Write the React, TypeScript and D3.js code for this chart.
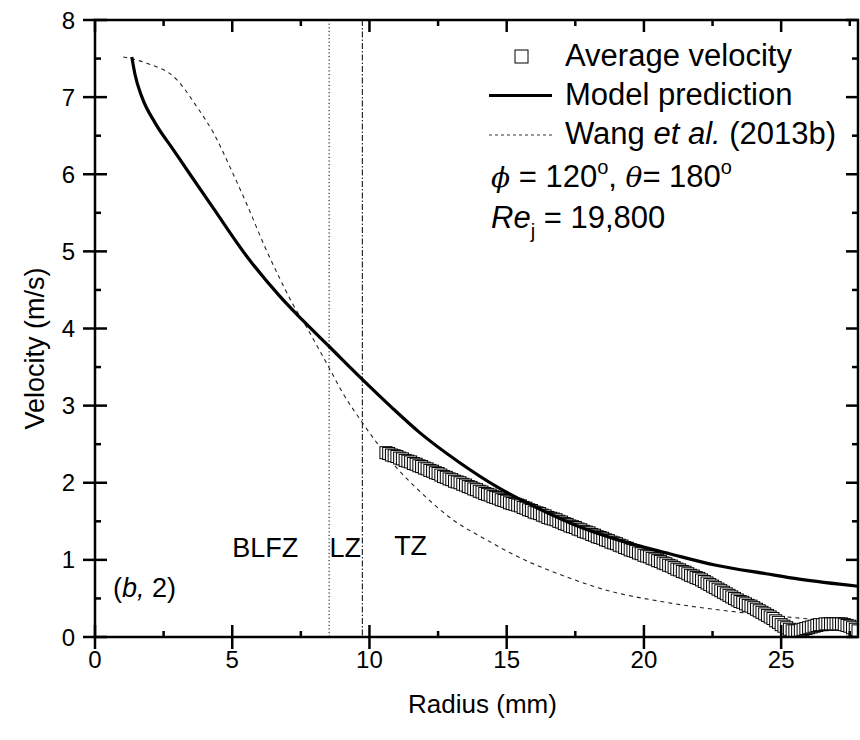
import React from "react";
import * as d3 from "d3";

const W = 860;
const H = 740;

// Model prediction (solid line)
const modelR = [1.34, 1.40, 1.46, 1.70, 2.2, 2.85, 3.46, 4.31, 5.52, 6.73, 7.5, 8.55, 9.74, 10.8, 11.83, 13.29, 14.68, 16.14, 17.65, 19.23, 20.93, 22.63, 24.45, 25.66, 27.85];
const modelV = [7.52, 7.40, 7.29, 7.01, 6.66, 6.32, 6.00, 5.56, 4.94, 4.42, 4.13, 3.76, 3.34, 2.98, 2.65, 2.26, 1.94, 1.67, 1.43, 1.24, 1.08, 0.93, 0.82, 0.75, 0.656];

// Wang et al. (2013b) (dashed line)
const wangR = [1.03, 1.88, 2.97, 3.70, 4.31, 5.0, 5.52, 6.2, 6.73, 7.2, 7.77, 8.19, 8.53, 9.0, 9.74, 10.37, 11.0, 11.77, 13.04, 14.26, 15.47, 17.17, 18.5, 20.8, 23.24, 25.5, 27.85];
const wangV = [7.52, 7.44, 7.23, 6.88, 6.54, 6.03, 5.62, 5.05, 4.65, 4.32, 3.98, 3.71, 3.49, 3.18, 2.78, 2.47, 2.19, 1.91, 1.52, 1.26, 1.03, 0.78, 0.62, 0.45, 0.33, 0.25, 0.19];

// Average velocity (open squares)
const avgR = [
  10.6, 10.7, 10.8, 10.9, 11.0, 11.1, 11.2, 11.3, 11.4, 11.5, 11.6, 11.7, 11.8, 11.9,
  12.0, 12.1, 12.2, 12.3, 12.4, 12.5, 12.6, 12.7, 12.8, 12.9,
  13.0, 13.1, 13.2, 13.3, 13.4, 13.5, 13.6, 13.7, 13.8, 13.9,
  14.0, 14.1, 14.2, 14.3, 14.4, 14.5, 14.6, 14.7, 14.8, 14.9,
  15.0, 15.1, 15.2, 15.3, 15.4, 15.5, 15.6, 15.7, 15.8, 15.9,
  16.0, 16.1, 16.2, 16.3, 16.4, 16.5, 16.6, 16.7, 16.8, 16.9,
  17.0, 17.1, 17.2, 17.3, 17.4, 17.5, 17.6, 17.7, 17.8, 17.9,
  18.0, 18.1, 18.2, 18.3, 18.4, 18.5, 18.6, 18.7, 18.8, 18.9,
  19.0, 19.1, 19.2, 19.3, 19.4, 19.5, 19.6, 19.7, 19.8, 19.9,
  20.0, 20.1, 20.2, 20.3, 20.4, 20.5, 20.6, 20.7, 20.8, 20.9,
  21.0, 21.1, 21.2, 21.3, 21.4, 21.5, 21.6, 21.7, 21.8, 21.9,
  22.0, 22.1, 22.2, 22.3, 22.4, 22.5, 22.6, 22.7, 22.8, 22.9,
  23.0, 23.1, 23.2, 23.3, 23.4, 23.5, 23.6, 23.7, 23.8, 23.9,
  24.0, 24.1, 24.2, 24.3, 24.4, 24.5, 24.6, 24.7, 24.8, 24.9,
  25.0, 25.1, 25.2, 25.3, 25.4, 25.5, 25.6, 25.7, 25.8, 25.9,
  26.0, 26.1, 26.2, 26.3, 26.4, 26.5, 26.6, 26.7, 26.8, 26.9,
  27.0, 27.1, 27.2, 27.3, 27.4, 27.5, 27.6, 27.7, 27.8,
];
const avgV = [
  2.39, 2.38, 2.36, 2.35, 2.34, 2.32, 2.31, 2.29, 2.28, 2.27, 2.25, 2.24, 2.22,
  2.21, 2.19, 2.18, 2.16, 2.15, 2.13, 2.12, 2.10, 2.08, 2.07, 2.05, 2.04,
  2.02, 2.01, 2.00, 1.98, 1.97, 1.95, 1.94, 1.92, 1.91, 1.89, 1.88, 1.86, 1.85,
  1.84, 1.82, 1.81, 1.80, 1.78, 1.77, 1.76, 1.74, 1.73, 1.72, 1.71, 1.70,
  1.68, 1.67, 1.65, 1.64, 1.62, 1.61, 1.60, 1.58, 1.57, 1.55, 1.54, 1.53,
  1.52, 1.50, 1.49, 1.47, 1.46, 1.44, 1.43, 1.42, 1.40,
  1.39, 1.37, 1.36, 1.35, 1.33, 1.32, 1.30, 1.29, 1.28,
  1.26, 1.25, 1.23, 1.22, 1.21, 1.19, 1.18, 1.16, 1.15, 1.13,
  1.12, 1.11, 1.09, 1.08, 1.06, 1.05, 1.04, 1.02, 1.01, 0.99, 0.98, 0.96, 0.95,
  0.93, 0.92, 0.90, 0.88, 0.87, 0.85, 0.84, 0.82, 0.80, 0.79, 0.77, 0.76,
  0.74, 0.72, 0.70, 0.68, 0.66, 0.64, 0.62, 0.60, 0.58, 0.56, 0.54, 0.52,
  0.50, 0.48, 0.46, 0.45, 0.43, 0.41, 0.40, 0.38,
  0.36, 0.34, 0.32, 0.30, 0.28, 0.26,
  0.24, 0.21, 0.19, 0.16, 0.14, 0.12,
  0.10, 0.08, 0.08, 0.08, 0.09,
  0.10, 0.11, 0.12, 0.13, 0.14, 0.15, 0.16, 0.16, 0.17, 0.17,
  0.17, 0.17, 0.17, 0.17, 0.17, 0.16, 0.15, 0.14, 0.12, 0.10,
  0.08,
];

// Zone boundaries and labels
const zoneLines = [8.53, 9.74];
const zoneLabels = ["BLFZ", "LZ", "TZ"];
const zoneLabelR = [6.2, 9.12, 11.5];
const zoneLabelV = [1.04, 1.04, 1.06];

const xMajor = [0, 5, 10, 15, 20, 25];
const xMinor = [2.5, 7.5, 12.5, 17.5, 22.5, 27.5];
const yMajor = [0, 1, 2, 3, 4, 5, 6, 7, 8];
const yMinor = [0.5, 1.5, 2.5, 3.5, 4.5, 5.5, 6.5, 7.5];

const FONT = "'Liberation Sans', Arial, sans-serif";

export default function App() {
  const left = 95, right = 858, top = 20, bottom = 637;
  const pw = right - left, ph = bottom - top;
  // inner coordinates (nested svg clips the data)
  const xi = d3.scaleLinear().domain([0, 27.8]).range([0, pw]);
  const yi = d3.scaleLinear().domain([0, 8]).range([ph, 0]);
  const x = (v: number) => left + xi(v);
  const y = (v: number) => top + yi(v);

  const line = d3
    .line<[number, number]>()
    .x((d) => xi(d[0]))
    .y((d) => yi(d[1]))
    .curve(d3.curveMonotoneX);

  const modelPath = line(modelR.map((r, i) => [r, modelV[i]]) as [number, number][]) || "";
  const wangPath = line(wangR.map((r, i) => [r, wangV[i]]) as [number, number][]) || "";

  const sq = 12;
  const tickFs = 24;

  return (
    <svg width={W} height={H} style={{ position: "absolute", left: 0, top: 0 }}>
      <rect x={0} y={0} width={W} height={H} fill="#fff" />

      {/* zone lines */}
      <line x1={x(zoneLines[0])} x2={x(zoneLines[0])} y1={top} y2={bottom} stroke="#000" strokeWidth={1} strokeDasharray="1.2,2.4" />
      <line x1={x(zoneLines[1])} x2={x(zoneLines[1])} y1={top} y2={bottom} stroke="#000" strokeWidth={1} strokeDasharray="6,2,1.5,2" />

      <svg x={left} y={top} width={pw} height={ph} overflow="hidden">
        <path d={wangPath} fill="none" stroke="#222" strokeWidth={1.1} strokeDasharray="4,4" />
        {avgR.map((r, i) => (
          <rect
            key={"s" + i}
            x={xi(r) - sq / 2}
            y={yi(avgV[i]) - sq / 2}
            width={sq}
            height={sq}
            fill="#fff"
            stroke="#000"
            strokeWidth={1}
          />
        ))}
        <path d={modelPath} fill="none" stroke="#000" strokeWidth={3.2} />
      </svg>

      {/* frame */}
      <rect x={left} y={top} width={pw} height={ph} fill="none" stroke="#000" strokeWidth={2.5} />

      {/* ticks */}
      {xMajor.map((v) => (
        <line key={"tb" + v} x1={x(v)} x2={x(v)} y1={bottom - 12} y2={bottom + 12} stroke="#000" strokeWidth={2.5} />
      ))}
      {xMajor.map((v) => (
        <line key={"tt" + v} x1={x(v)} x2={x(v)} y1={top} y2={top + 12} stroke="#000" strokeWidth={2.5} />
      ))}
      {xMinor.map((v) => (
        <line key={"mb" + v} x1={x(v)} x2={x(v)} y1={bottom - 6} y2={bottom} stroke="#000" strokeWidth={2.5} />
      ))}
      {xMinor.map((v) => (
        <line key={"mt" + v} x1={x(v)} x2={x(v)} y1={top} y2={top + 6} stroke="#000" strokeWidth={2.5} />
      ))}
      {yMajor.map((v) => (
        <line key={"tl" + v} x1={left - 12} x2={left + 12} y1={y(v)} y2={y(v)} stroke="#000" strokeWidth={2.5} />
      ))}
      {yMajor.map((v) => (
        <line key={"tr" + v} x1={right - 12} x2={right} y1={y(v)} y2={y(v)} stroke="#000" strokeWidth={2.5} />
      ))}
      {yMinor.map((v) => (
        <line key={"ml" + v} x1={left} x2={left + 6} y1={y(v)} y2={y(v)} stroke="#000" strokeWidth={2.5} />
      ))}
      {yMinor.map((v) => (
        <line key={"mr" + v} x1={right - 6} x2={right} y1={y(v)} y2={y(v)} stroke="#000" strokeWidth={2.5} />
      ))}

      <g fontFamily={FONT} fill="#000">
        {zoneLabels.map((t, i) => (
          <text key={t} x={x(zoneLabelR[i])} y={y(zoneLabelV[i])} fontSize={27} textAnchor="middle">
            {t}
          </text>
        ))}
        <text x={113} y={597} fontSize={27}>
          (<tspan fontStyle="italic">b,</tspan> 2)
        </text>

        {xMajor.map((v) => (
          <text key={"xl" + v} x={x(v)} y={bottom + 31} fontSize={tickFs} textAnchor="middle">
            {v}
          </text>
        ))}
        {yMajor.map((v) => (
          <text key={"yl" + v} x={left - 20} y={y(v) + 8.5} fontSize={tickFs} textAnchor="end">
            {v}
          </text>
        ))}

        <text x={(left + right) / 2 + 6} y={713} fontSize={26} textAnchor="middle">
          Radius (mm)
        </text>
        <text transform={`translate(44, ${(top + bottom) / 2 + 20}) rotate(-90)`} fontSize={27} textAnchor="middle">
          Velocity (m/s)
        </text>

        {/* legend */}
        <text x={565} y={66} fontSize={31}>Average velocity</text>
        <text x={565} y={105} fontSize={31}>Model prediction</text>
        <text x={565} y={144} fontSize={31}>
          Wang <tspan fontStyle="italic">et al.</tspan> (2013b)
        </text>
        <text x={491} y={187} fontSize={31}>
          <tspan fontStyle="italic" fontFamily="'DejaVu Serif', serif" fontSize={28}>ϕ</tspan>
          <tspan> = 120</tspan>
          <tspan fontSize={20} dy={-13}>o</tspan>
          <tspan dy={13}>, </tspan>
          <tspan fontStyle="italic" fontFamily="'DejaVu Serif', serif" fontSize={28}>θ</tspan>
          <tspan>= 180</tspan>
          <tspan fontSize={20} dy={-13}>o</tspan>
        </text>
        <text x={491} y={228} fontSize={31}>
          <tspan fontStyle="italic">Re</tspan>
          <tspan fontSize={20} dy={10}>j</tspan>
          <tspan dy={-10}> = 19,800</tspan>
        </text>
      </g>
      <rect x={515} y={50} width={13} height={13} fill="#fff" stroke="#000" strokeWidth={1} />
      <line x1={489} x2={552} y1={95.5} y2={95.5} stroke="#000" strokeWidth={3} />
      <line x1={489} x2={552} y1={135} y2={135} stroke="#333" strokeWidth={1} strokeDasharray="3,3" />
    </svg>
  );
}
